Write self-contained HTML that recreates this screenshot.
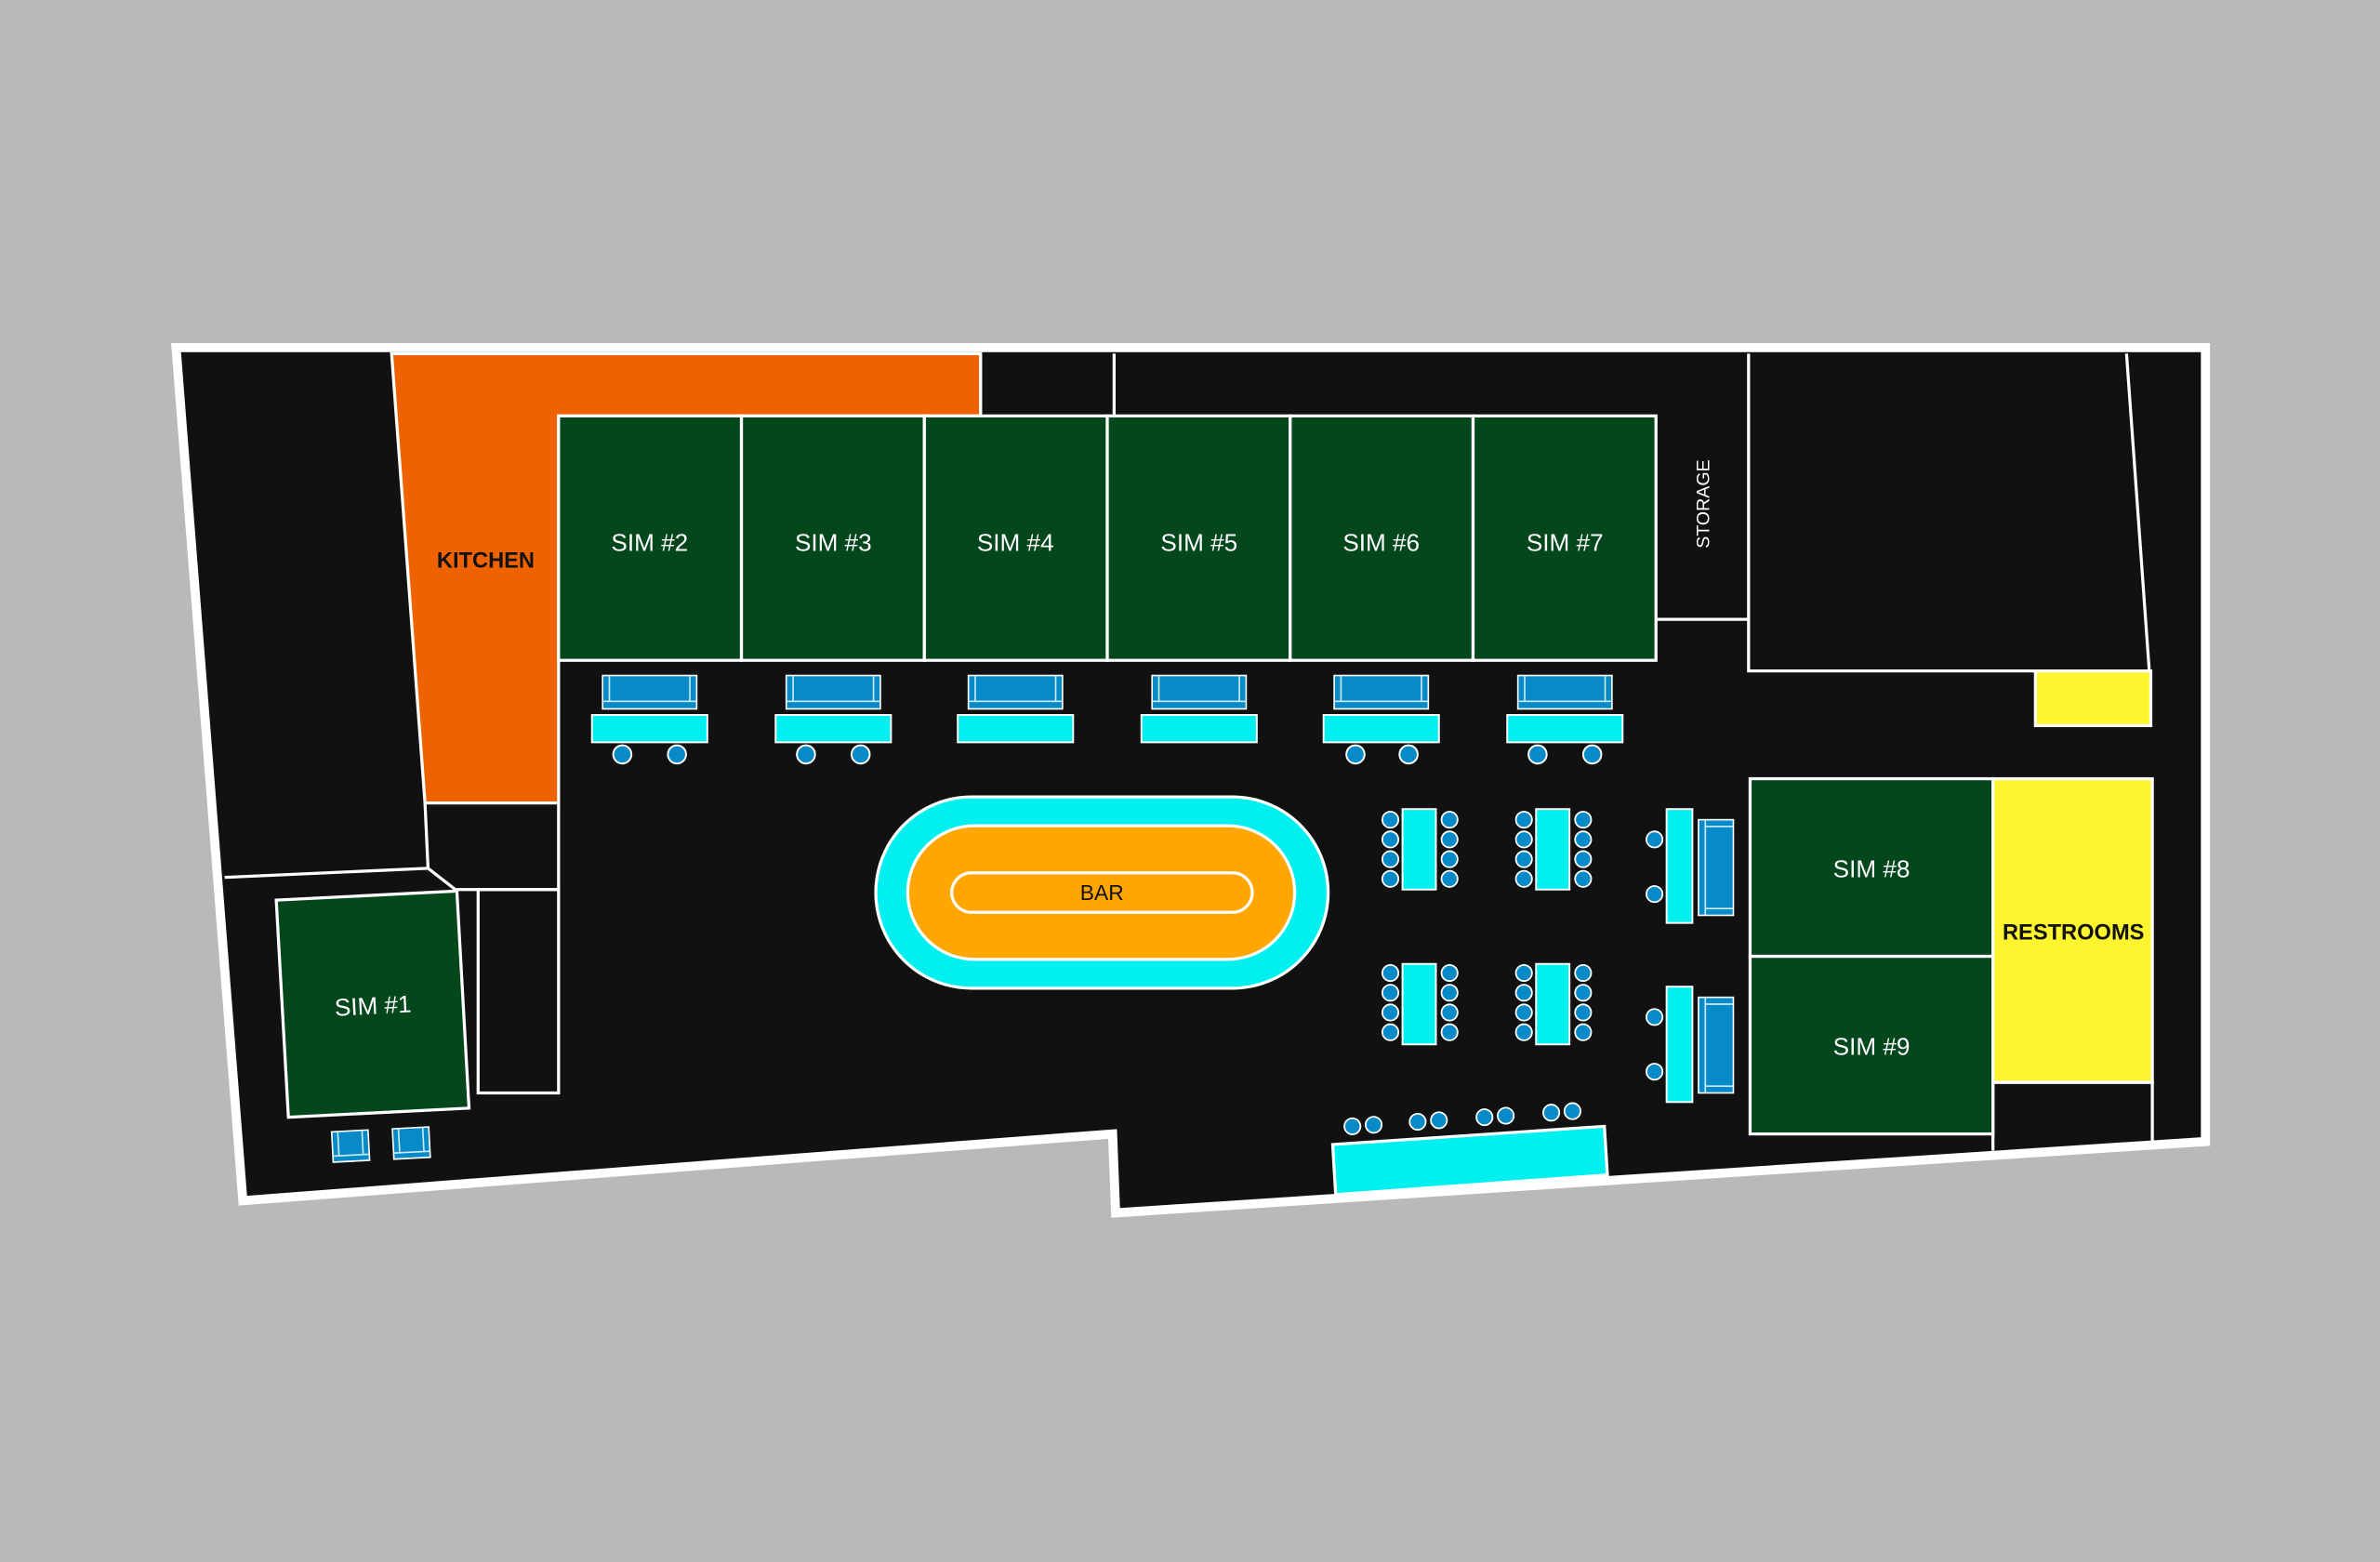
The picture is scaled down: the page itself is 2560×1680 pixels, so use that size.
<!DOCTYPE html>
<html><head><meta charset="utf-8"><style>
html,body{margin:0;padding:0;background:#B9B9B9;}
svg{display:block;}
text{font-family:"Liberation Sans",sans-serif;}
</style></head><body>
<svg width="2560" height="1680" viewBox="0 0 1568 1029" xmlns="http://www.w3.org/2000/svg">
<defs>
<g id="couch">
<rect x="0" y="0" width="62" height="22" fill="#068BC8" stroke="#fff" stroke-width="1"/>
<line x1="4.5" y1="0" x2="4.5" y2="17" stroke="#cfeaf7" stroke-width="1"/>
<line x1="57.5" y1="0" x2="57.5" y2="17" stroke="#cfeaf7" stroke-width="1"/>
<line x1="0" y1="17" x2="62" y2="17" stroke="#cfeaf7" stroke-width="1"/>
</g>
<g id="vcouch">
<rect x="0" y="0" width="23" height="63" fill="#068BC8" stroke="#fff" stroke-width="1"/>
<line x1="4.5" y1="0" x2="4.5" y2="63" stroke="#cfeaf7" stroke-width="1"/>
<line x1="4.5" y1="4.5" x2="23" y2="4.5" stroke="#cfeaf7" stroke-width="1"/>
<line x1="4.5" y1="58.5" x2="23" y2="58.5" stroke="#cfeaf7" stroke-width="1"/>
</g>
<circle id="st" r="6" fill="#068BC8" stroke="#fff" stroke-width="1.2"/>
<circle id="sc" r="5.3" fill="#068BC8" stroke="#fff" stroke-width="1.1"/>
</defs>
<rect width="1568" height="1029" fill="#B9B9B9"/>
<!-- building -->
<polygon points="116,229 1453,229 1453,752 735,799 733,747 160,791" fill="#111" stroke="#fff" stroke-width="6" stroke-linejoin="miter"/>
<!-- kitchen -->
<polygon points="258,233 646,233 646,274 368,274 368,529 280,529" fill="#EE6300" stroke="#fff" stroke-width="2"/>
<g stroke="#fff" stroke-width="2" fill="none">
<line x1="280" y1="529" x2="282" y2="572"/>
<line x1="148" y1="578" x2="282" y2="572"/>
<polyline points="282,572 300,586 368,586"/>
<line x1="368" y1="529" x2="368" y2="586"/>
<rect x="315" y="586" width="53" height="134"/>
<line x1="646" y1="233" x2="646" y2="274"/>
<line x1="734" y1="233" x2="734" y2="274"/>
<polyline points="1091,408 1152,408"/>
<polyline points="1152,233 1152,442 1416,442 1401,233"/>
</g>
<text x="320" y="374" font-size="14.5" text-anchor="middle" fill="#111" font-weight="bold">KITCHEN</text>
<!-- sims 2-7 -->
<g fill="#04471D" stroke="#fff" stroke-width="2">
<rect x="368" y="274" width="120.5" height="161"/>
<rect x="488.5" y="274" width="120.5" height="161"/>
<rect x="609" y="274" width="120.5" height="161"/>
<rect x="729.5" y="274" width="120.5" height="161"/>
<rect x="850" y="274" width="120.5" height="161"/>
<rect x="970.5" y="274" width="120.5" height="161"/>
</g>
<g fill="#fff" font-size="16" text-anchor="middle">
<text x="428" y="363">SIM #2</text>
<text x="549" y="363">SIM #3</text>
<text x="669" y="363">SIM #4</text>
<text x="790" y="363">SIM #5</text>
<text x="910" y="363">SIM #6</text>
<text x="1031" y="363">SIM #7</text>
</g>
<text x="0" y="0" font-size="12" fill="#fff" text-anchor="middle" transform="translate(1126,332) rotate(-90)">STORAGE</text>
<rect x="1341" y="442" width="76" height="36" fill="#FFF52F" stroke="#fff" stroke-width="2"/>
<!-- couches/tables -->
<g>
<use href="#couch" x="397" y="445"/><rect x="390" y="471" width="76" height="18" fill="#00F0F0" stroke="#fff" stroke-width="1.2"/>
<use href="#couch" x="518" y="445"/><rect x="511" y="471" width="76" height="18" fill="#00F0F0" stroke="#fff" stroke-width="1.2"/>
<use href="#couch" x="638" y="445"/><rect x="631" y="471" width="76" height="18" fill="#00F0F0" stroke="#fff" stroke-width="1.2"/>
<use href="#couch" x="759" y="445"/><rect x="752" y="471" width="76" height="18" fill="#00F0F0" stroke="#fff" stroke-width="1.2"/>
<use href="#couch" x="879" y="445"/><rect x="872" y="471" width="76" height="18" fill="#00F0F0" stroke="#fff" stroke-width="1.2"/>
<use href="#couch" x="1000" y="445"/><rect x="993" y="471" width="76" height="18" fill="#00F0F0" stroke="#fff" stroke-width="1.2"/>
<use href="#st" x="410" y="497"/><use href="#st" x="446" y="497"/>
<use href="#st" x="531" y="497"/><use href="#st" x="567" y="497"/>
<use href="#st" x="893" y="497"/><use href="#st" x="928" y="497"/>
<use href="#st" x="1013" y="497"/><use href="#st" x="1049" y="497"/>
</g>
<!-- sim 1 -->
<polygon points="182,593 301,587 309,730 190,736" fill="#04471D" stroke="#fff" stroke-width="2"/>
<text x="0" y="0" font-size="16" fill="#fff" text-anchor="middle" transform="translate(246,668) rotate(-3)">SIM #1</text>
<g transform="rotate(-3 231 755)"><rect x="219" y="745" width="24" height="20" fill="#068BC8" stroke="#fff" stroke-width="1"/><line x1="223" y1="745" x2="223" y2="761" stroke="#cfeaf7"/><line x1="239" y1="745" x2="239" y2="761" stroke="#cfeaf7"/><line x1="219" y1="761" x2="243" y2="761" stroke="#cfeaf7"/></g>
<g transform="rotate(-3 271 753)"><rect x="259" y="743" width="24" height="20" fill="#068BC8" stroke="#fff" stroke-width="1"/><line x1="263" y1="743" x2="263" y2="759" stroke="#cfeaf7"/><line x1="279" y1="743" x2="279" y2="759" stroke="#cfeaf7"/><line x1="259" y1="759" x2="283" y2="759" stroke="#cfeaf7"/></g>
<!-- bar -->
<rect x="577" y="525" width="298" height="126" rx="63" fill="#00F0F0" stroke="#fff" stroke-width="2"/>
<rect x="598" y="544" width="255" height="88" rx="44" fill="#FFA600" stroke="#fff" stroke-width="2"/>
<rect x="627" y="575" width="198" height="26" rx="13" fill="#FFA600" stroke="#fff" stroke-width="2"/>
<text x="726" y="593" font-size="14" text-anchor="middle" fill="#111">BAR</text>
<!-- dining tables -->
<g fill="#00F0F0" stroke="#fff" stroke-width="1.2">
<rect x="924" y="533" width="22" height="53"/><rect x="1012" y="533" width="22" height="53"/>
<rect x="924" y="635" width="22" height="53"/><rect x="1012" y="635" width="22" height="53"/>
<rect x="1098" y="533" width="17" height="75"/><rect x="1098" y="650" width="17" height="76"/>
</g>
<g>
<use href="#sc" x="916" y="540"/><use href="#sc" x="916" y="553"/><use href="#sc" x="916" y="566"/><use href="#sc" x="916" y="579"/>
<use href="#sc" x="955" y="540"/><use href="#sc" x="955" y="553"/><use href="#sc" x="955" y="566"/><use href="#sc" x="955" y="579"/>
<use href="#sc" x="1004" y="540"/><use href="#sc" x="1004" y="553"/><use href="#sc" x="1004" y="566"/><use href="#sc" x="1004" y="579"/>
<use href="#sc" x="1043" y="540"/><use href="#sc" x="1043" y="553"/><use href="#sc" x="1043" y="566"/><use href="#sc" x="1043" y="579"/>
<use href="#sc" x="916" y="641"/><use href="#sc" x="916" y="654"/><use href="#sc" x="916" y="667"/><use href="#sc" x="916" y="680"/>
<use href="#sc" x="955" y="641"/><use href="#sc" x="955" y="654"/><use href="#sc" x="955" y="667"/><use href="#sc" x="955" y="680"/>
<use href="#sc" x="1004" y="641"/><use href="#sc" x="1004" y="654"/><use href="#sc" x="1004" y="667"/><use href="#sc" x="1004" y="680"/>
<use href="#sc" x="1043" y="641"/><use href="#sc" x="1043" y="654"/><use href="#sc" x="1043" y="667"/><use href="#sc" x="1043" y="680"/>
<use href="#sc" x="1090" y="553"/><use href="#sc" x="1090" y="589"/>
<use href="#sc" x="1090" y="670"/><use href="#sc" x="1090" y="706"/>
<use href="#vcouch" x="1119" y="540"/><use href="#vcouch" x="1119" y="657"/>
</g>
<!-- bottom bench -->
<polygon points="878,754 1057,742 1059,774 880,787" fill="#00F0F0" stroke="#fff" stroke-width="2"/>
<g>
<use href="#sc" x="891" y="742"/><use href="#sc" x="905" y="741"/>
<use href="#sc" x="934" y="739"/><use href="#sc" x="948" y="738"/>
<use href="#sc" x="978" y="736"/><use href="#sc" x="992" y="735"/>
<use href="#sc" x="1022" y="733"/><use href="#sc" x="1036" y="732"/>
</g>
<!-- right sims -->
<g stroke="#fff" stroke-width="2">
<rect x="1153" y="513" width="160" height="117" fill="#04471D"/>
<rect x="1153" y="630" width="160" height="117" fill="#04471D"/>
<rect x="1313" y="513" width="105" height="200" fill="#FFF52F"/>
<polyline points="1313,758 1313,713 1418,713 1418,752" fill="none"/>
</g>
<g fill="#fff" font-size="16" text-anchor="middle">
<text x="1233" y="578">SIM #8</text>
<text x="1233" y="695">SIM #9</text>
</g>
<text x="1366" y="619" font-size="14.5" text-anchor="middle" fill="#111" font-weight="bold">RESTROOMS</text>
</svg>
</body></html>
